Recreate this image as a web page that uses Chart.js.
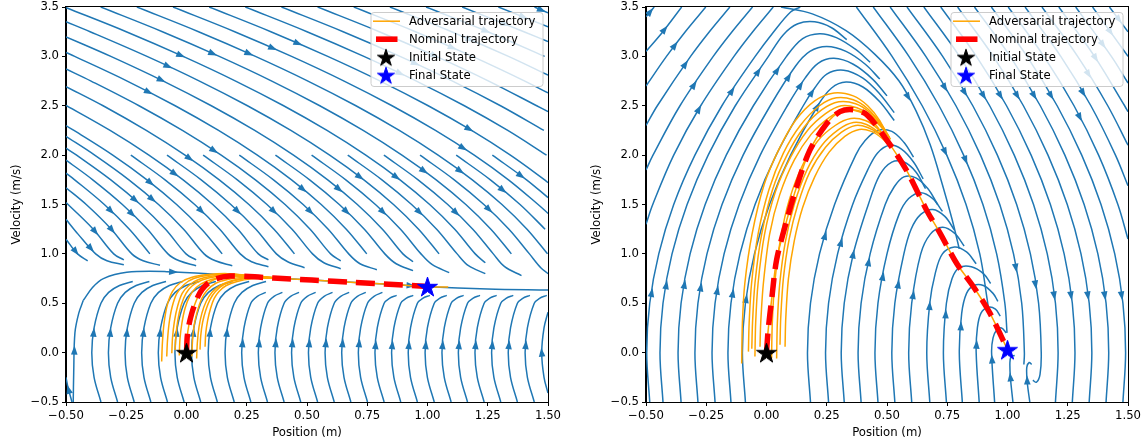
<!DOCTYPE html>
<html><head><meta charset="utf-8">
<script src="https://cdn.jsdelivr.net/npm/chart.js@4/dist/chart.umd.min.js"></script>
<style>
body{margin:0;background:#fff;width:1146px;height:444px;overflow:hidden;position:relative}
canvas{position:absolute;top:0}
</style></head>
<body>
<canvas id="leftChart" width="573" height="444" style="left:0px"></canvas>
<canvas id="rightChart" width="566" height="444" style="left:580px"></canvas>
<script>
// ---------------- axis ticks / labels ----------------
const xTickValues = [-0.5,-0.25,0,0.25,0.5,0.75,1.0,1.25,1.5];
const xTickLabels = ['\u22120.50','\u22120.25','0.00','0.25','0.50','0.75','1.00','1.25','1.50'];
const yTickValues = [-0.5,0,0.5,1.0,1.5,2.0,2.5,3.0,3.5];
const yTickLabels = ['\u22120.5','0.0','0.5','1.0','1.5','2.0','2.5','3.0','3.5'];
const xAxisTitle = 'Position (m)';
const yAxisTitle = 'Velocity (m/s)';
const legendLabels = ['Adversarial trajectory','Nominal trajectory','Initial State','Final State'];

// ---------------- left panel: streamlines ----------------
const leftUpperStreams = [
 [[-0.5,1.149],[-0.452,1.0],[-0.41,0.93]],
 [[-0.5,1.35],[-0.45,1.2],[-0.377,1.0],[-0.33,0.93],[-0.26,0.89]],
 [[-0.5,1.52],[-0.387,1.25],[-0.302,1.0],[-0.26,0.94]],
 [[-0.5,1.67],[-0.416,1.5],[-0.312,1.25],[-0.227,1.0],[-0.18,0.93],[-0.11,0.885]],
 [[-0.5,1.817],[-0.464,1.75],[-0.341,1.5],[-0.237,1.25],[-0.152,1.0]],
 [[-0.5,1.95],[-0.389,1.75],[-0.266,1.5],[-0.162,1.25],[-0.077,1.0],[-0.03,0.93],[0.04,0.88]],
 [[-0.5,2.07],[-0.456,2.0],[-0.314,1.75],[-0.191,1.5],[-0.087,1.25],[-0.002,1.0],[0.04,0.94]],
 [[-0.5,2.19],[-0.381,2.0],[-0.239,1.75],[-0.116,1.5],[-0.012,1.25],[0.073,1.0],[0.12,0.93],[0.19,0.88]],
 [[-0.5,2.298],[-0.467,2.25],[-0.306,2.0],[-0.164,1.75],[-0.041,1.5],[0.063,1.25],[0.148,1.0]],
 [[-0.231,2.0],[-0.089,1.75],[0.034,1.5],[0.138,1.25],[0.223,1.0],[0.27,0.92],[0.34,0.87]],
 [[-0.5,2.504],[-0.317,2.25],[-0.156,2.0],[-0.014,1.75],[0.109,1.5],[0.213,1.25],[0.298,1.0],[0.34,0.94]],
 [[-0.081,2.0],[0.061,1.75],[0.184,1.5],[0.288,1.25],[0.373,1.0],[0.42,0.92],[0.49,0.86]],
 [[-0.5,2.694],[-0.346,2.5],[-0.167,2.25],[-0.006,2.0],[0.136,1.75],[0.259,1.5],[0.363,1.25],[0.448,1.0]],
 [[0.069,2.0],[0.211,1.75],[0.334,1.5],[0.438,1.25],[0.523,1.0],[0.57,0.91],[0.64,0.85]],
 [[-0.5,2.872],[-0.396,2.75],[-0.197,2.5],[-0.017,2.25],[0.144,2.0],[0.286,1.75],[0.409,1.5],[0.513,1.25],[0.598,1.0],[0.64,0.93]],
 [[0.219,2.0],[0.361,1.75],[0.484,1.5],[0.588,1.25],[0.673,1.0],[0.72,0.9],[0.79,0.84]],
 [[-0.5,3.04],[-0.464,3.0],[-0.246,2.75],[-0.047,2.5],[0.133,2.25],[0.294,2.0],[0.436,1.75],[0.559,1.5],[0.663,1.25],[0.748,1.0]],
 [[0.369,2.0],[0.511,1.75],[0.634,1.5],[0.738,1.25],[0.823,1.0],[0.87,0.9],[0.94,0.83]],
 [[-0.5,3.198],[-0.314,3.0],[-0.096,2.75],[0.103,2.5],[0.283,2.25],[0.444,2.0],[0.586,1.75],[0.709,1.5],[0.813,1.25],[0.898,1.0],[0.94,0.92]],
 [[0.519,2.0],[0.661,1.75],[0.784,1.5],[0.888,1.25],[0.973,1.0],[1.02,0.89],[1.09,0.81]],
 [[-0.5,3.35],[-0.4,3.25],[-0.164,3.0],[0.054,2.75],[0.253,2.5],[0.433,2.25],[0.594,2.0],[0.736,1.75],[0.859,1.5],[0.963,1.25],[1.048,1.0]],
 [[0.669,2.0],[0.811,1.75],[0.934,1.5],[1.038,1.25],[1.123,1.0],[1.17,0.88],[1.24,0.8]],
 [[-0.5,3.494],[-0.25,3.25],[-0.014,3.0],[0.204,2.75],[0.403,2.5],[0.583,2.25],[0.744,2.0],[0.886,1.75],[1.009,1.5],[1.113,1.25],[1.198,1.0],[1.24,0.91]],
 [[0.819,2.0],[0.961,1.75],[1.084,1.5],[1.188,1.25],[1.273,1.0],[1.32,0.87],[1.39,0.78]],
 [[-0.356,3.5],[-0.1,3.25],[0.136,3.0],[0.354,2.75],[0.553,2.5],[0.733,2.25],[0.894,2.0],[1.036,1.75],[1.159,1.5],[1.263,1.25],[1.348,1.0]],
 [[0.969,2.0],[1.111,1.75],[1.234,1.5],[1.338,1.25],[1.423,1.0],[1.47,0.86],[1.5,0.8]],
 [[-0.206,3.5],[0.05,3.25],[0.286,3.0],[0.504,2.75],[0.703,2.5],[0.883,2.25],[1.044,2.0],[1.186,1.75],[1.309,1.5],[1.413,1.25],[1.498,1.0]],
 [[1.119,2.0],[1.261,1.75],[1.384,1.5],[1.488,1.25]],
 [[-0.056,3.5],[0.2,3.25],[0.436,3.0],[0.654,2.75],[0.853,2.5],[1.033,2.25],[1.194,2.0],[1.336,1.75],[1.459,1.5],[1.5,1.41]],
 [[1.269,2.0],[1.411,1.75],[1.5,1.57]],
 [[0.094,3.5],[0.35,3.25],[0.586,3.0],[0.804,2.75],[1.003,2.5],[1.183,2.25],[1.344,2.0],[1.486,1.75],[1.5,1.72]],
 [[0.244,3.5],[0.5,3.25],[0.736,3.0],[0.954,2.75],[1.153,2.5],[1.333,2.25],[1.494,2.0]],
 [[0.394,3.5],[0.65,3.25],[0.886,3.0],[1.104,2.75],[1.303,2.5],[1.483,2.25]],
 [[0.544,3.5],[0.8,3.25],[1.036,3.0],[1.254,2.75],[1.453,2.5],[1.5,2.44]],
 [[0.694,3.5],[0.95,3.25],[1.186,3.0],[1.404,2.75],[1.5,2.63]],
 [[0.844,3.5],[1.1,3.25],[1.336,3.0],[1.5,2.81]],
 [[0.994,3.5],[1.25,3.25],[1.486,3.0]],
 [[1.144,3.5],[1.4,3.25],[1.5,3.15]],
 [[1.294,3.5],[1.5,3.3]],
 [[1.444,3.5],[1.5,3.44]]
];
const leftLowerStreams = [
 [[-0.475,-0.5],[-0.492,-0.35],[-0.5,-0.25]],
 [[-0.47,-0.5],[-0.468,-0.2],[-0.463,0.2],[-0.447,0.4],[-0.428,0.53]],
 [[-0.428,0.53],[-0.39,0.66],[-0.345,0.75],[-0.248,0.813],[-0.082,0.82],[0.167,0.786],[0.36,0.757]],
 [[0.36,0.757],[0.52,0.735],[0.7,0.71],[0.86,0.69],[1.0,0.668],[1.25,0.645],[1.5,0.634]],
 [[-0.355,-0.5],[-0.3835,-0.25],[-0.393,0],[-0.3835,0.25],[-0.355,0.5],[-0.323,0.61],[-0.278,0.68],[-0.223,0.72]],
 [[-0.286,-0.5],[-0.3145,-0.25],[-0.324,0],[-0.3145,0.25],[-0.286,0.5],[-0.254,0.61],[-0.209,0.68],[-0.154,0.72]],
 [[-0.217,-0.5],[-0.2455,-0.25],[-0.255,0],[-0.2455,0.25],[-0.217,0.5],[-0.185,0.61],[-0.14,0.68],[-0.085,0.72]],
 [[-0.148,-0.5],[-0.1765,-0.25],[-0.186,0],[-0.1765,0.25],[-0.148,0.5],[-0.116,0.61],[-0.071,0.68],[-0.016,0.72]],
 [[-0.079,-0.5],[-0.1075,-0.25],[-0.117,0],[-0.1075,0.25],[-0.079,0.5],[-0.047,0.61],[-0.002,0.68],[0.053,0.72]],
 [[-0.01,-0.5],[-0.0385,-0.25],[-0.048,0],[-0.0385,0.25],[-0.01,0.5],[0.022,0.61],[0.067,0.68],[0.122,0.72]],
 [[0.059,-0.5],[0.0305,-0.25],[0.021,0],[0.0305,0.25],[0.059,0.5],[0.091,0.61],[0.136,0.68],[0.191,0.72]],
 [[0.128,-0.5],[0.0995,-0.25],[0.09,0],[0.0995,0.25],[0.128,0.5],[0.16,0.61],[0.205,0.68],[0.26,0.72]],
 [[0.198,-0.5],[0.1695,-0.25],[0.16,0],[0.1695,0.25],[0.198,0.5],[0.23,0.61],[0.275,0.68],[0.33,0.72]],
 [[0.267,-0.5],[0.2385,-0.25],[0.229,0],[0.2385,0.25],[0.267,0.5],[0.294,0.57],[0.329,0.61]],
 [[0.336,-0.5],[0.3075,-0.25],[0.298,0],[0.3075,0.25],[0.336,0.5],[0.363,0.57],[0.398,0.61]],
 [[0.405,-0.5],[0.3765,-0.25],[0.367,0],[0.3765,0.25],[0.405,0.5],[0.432,0.57],[0.467,0.61]],
 [[0.474,-0.5],[0.4455,-0.25],[0.436,0],[0.4455,0.25],[0.474,0.5],[0.501,0.57],[0.536,0.61]],
 [[0.544,-0.5],[0.5155,-0.25],[0.506,0],[0.5155,0.25],[0.544,0.5],[0.571,0.57],[0.606,0.61]],
 [[0.613,-0.5],[0.5845,-0.25],[0.575,0],[0.5845,0.25],[0.613,0.5],[0.64,0.57],[0.675,0.61]],
 [[0.682,-0.5],[0.6535,-0.25],[0.644,0],[0.6535,0.25],[0.682,0.5],[0.709,0.57],[0.744,0.61]],
 [[0.751,-0.5],[0.7225,-0.25],[0.713,0],[0.7225,0.25],[0.751,0.5],[0.778,0.57],[0.813,0.61]],
 [[0.82,-0.5],[0.7915,-0.25],[0.782,0],[0.7915,0.25],[0.82,0.5],[0.842,0.55],[0.872,0.58]],
 [[0.889,-0.5],[0.8605,-0.25],[0.851,0],[0.8605,0.25],[0.889,0.5],[0.911,0.55],[0.941,0.58]],
 [[0.958,-0.5],[0.9295,-0.25],[0.92,0],[0.9295,0.25],[0.958,0.5],[0.98,0.55],[1.01,0.58]],
 [[1.028,-0.5],[0.9995,-0.25],[0.99,0],[0.9995,0.25],[1.028,0.5],[1.05,0.55],[1.08,0.58]],
 [[1.098,-0.5],[1.0695,-0.25],[1.06,0],[1.0695,0.25],[1.098,0.5],[1.12,0.55],[1.15,0.58]],
 [[1.166,-0.5],[1.1375,-0.25],[1.128,0],[1.1375,0.25],[1.166,0.5],[1.188,0.55],[1.218,0.58]],
 [[1.235,-0.5],[1.2065,-0.25],[1.197,0],[1.2065,0.25],[1.235,0.5],[1.257,0.55],[1.287,0.58]],
 [[1.304,-0.5],[1.2755,-0.25],[1.266,0],[1.2755,0.25],[1.304,0.5],[1.326,0.55],[1.356,0.58]],
 [[1.373,-0.5],[1.3445,-0.25],[1.335,0],[1.3445,0.25],[1.373,0.5],[1.395,0.55],[1.425,0.58]],
 [[1.443,-0.5],[1.4145,-0.25],[1.405,0],[1.4145,0.25],[1.443,0.5],[1.465,0.55],[1.495,0.58]],
 [[1.5,-0.41],[1.4835,-0.25],[1.474,0],[1.4835,0.25],[1.5,0.41]]
];

// ---------------- left panel: trajectories ----------------
const leftNominal = [[0,0],[0.003,0.16],[0.01,0.28],[0.022,0.4],[0.033,0.48],[0.048,0.57],[0.065,0.64],[0.088,0.7],[0.125,0.75],[0.18,0.775],[0.26,0.77],[0.36,0.755],[0.52,0.735],[0.7,0.71],[0.86,0.69],[1.0,0.67]];
const leftAdversarial = [
 [[-0.103,-0.09],[-0.1,0.1],[-0.093,0.3],[-0.08,0.48],[-0.058,0.62],[-0.025,0.71],[0.02,0.76],[0.09,0.79],[0.17,0.8],[0.26,0.78],[0.36,0.76]],
 [[-0.082,-0.04],[-0.079,0.12],[-0.072,0.3],[-0.06,0.46],[-0.04,0.6],[-0.01,0.69],[0.03,0.75],[0.1,0.785],[0.18,0.795],[0.27,0.775],[0.36,0.758]],
 [[-0.061,-0.007],[-0.058,0.15],[-0.05,0.32],[-0.037,0.47],[-0.018,0.6],[0.01,0.68],[0.05,0.74],[0.11,0.775],[0.19,0.79],[0.28,0.772],[0.36,0.757]],
 [[-0.047,0.027],[-0.044,0.17],[-0.036,0.33],[-0.022,0.48],[-0.002,0.6],[0.025,0.68],[0.065,0.735],[0.125,0.77],[0.2,0.785],[0.29,0.77],[0.36,0.756]],
 [[-0.03,-0.03],[-0.027,0.14],[-0.019,0.3],[-0.006,0.45],[0.013,0.57],[0.04,0.66],[0.08,0.72],[0.14,0.76],[0.21,0.78],[0.3,0.768],[0.36,0.755]],
 [[0,0],[0.003,0.16],[0.01,0.28],[0.022,0.4],[0.033,0.48],[0.048,0.57],[0.065,0.64],[0.088,0.7],[0.125,0.75],[0.18,0.775],[0.26,0.77],[0.36,0.755],[0.52,0.736],[0.7,0.711],[0.86,0.69],[1.0,0.668],[1.086,0.664]],
 [[0.022,-0.04],[0.025,0.12],[0.032,0.28],[0.045,0.42],[0.062,0.54],[0.085,0.63],[0.12,0.7],[0.17,0.74],[0.23,0.76],[0.3,0.763],[0.36,0.755]],
 [[0.042,-0.06],[0.045,0.1],[0.052,0.26],[0.064,0.4],[0.082,0.52],[0.105,0.61],[0.14,0.68],[0.19,0.73],[0.25,0.755],[0.31,0.76],[0.37,0.753]],
 [[0.056,0.03],[0.059,0.17],[0.067,0.31],[0.08,0.43],[0.098,0.54],[0.12,0.62],[0.155,0.69],[0.2,0.73],[0.26,0.752],[0.32,0.757],[0.38,0.752]],
 [[0.077,0.06],[0.08,0.2],[0.088,0.33],[0.1,0.45],[0.115,0.55],[0.135,0.62],[0.165,0.68],[0.21,0.72],[0.27,0.748],[0.33,0.755],[0.39,0.75]]
];
const leftInitial = [0, 0];
const leftFinal = [1.0, 0.67];

// ---------------- right panel: streamlines ----------------
const rightEdgeStreams = [
 [[-0.5,3.4],[-0.466,3.5]],
 [[-0.5,3.05],[-0.43,3.25],[-0.352,3.5]],
 [[-0.5,2.7],[-0.415,3.0],[-0.337,3.25],[-0.252,3.5]],
 [[-0.5,2.3],[-0.453,2.5],[-0.315,3.0],[-0.237,3.25],[-0.152,3.5]],
 [[-0.5,1.85],[-0.471,2.0],[-0.359,2.5],[-0.221,3.0],[-0.143,3.25],[-0.058,3.5]],
 [[-0.5,1.3],[-0.472,1.5],[-0.385,2.0],[-0.273,2.5],[-0.135,3.0],[-0.057,3.25],[0.028,3.5]],
 [[0.06,3.5],[0.19,3.43],[0.33,3.26],[0.45,3.02],[0.55,2.75],[0.62,2.45],[0.68,2.1],[0.73,1.7],[0.77,1.35],[0.8,1.05]]
];
const rightArchStreams = [
 [[-0.4845,-0.5],[-0.497,0],[-0.4845,0.5],[-0.447,1.0],[-0.385,1.5],[-0.297,2.0],[-0.185,2.5],[-0.047,3.0],[0.03,3.25],[0.1,3.45],[0.14,3.5]],
 [[-0.4295,-0.5],[-0.442,0],[-0.4295,0.5],[-0.392,1.0],[-0.3295,1.5],[-0.242,2.0],[-0.1295,2.5],[0.008,3.0],[0.07,3.22],[0.13,3.33],[0.2,3.35],[0.27,3.29],[0.333,3.17]],
 [[-0.3545,-0.5],[-0.367,0],[-0.3545,0.5],[-0.317,1.0],[-0.2545,1.5],[-0.167,2.0],[-0.0545,2.5],[0.083,3.0],[0.15,3.18],[0.22,3.23],[0.29,3.19],[0.37,3.07],[0.43,2.94]],
 [[-0.2845,-0.5],[-0.297,0],[-0.2845,0.5],[-0.247,1.0],[-0.1845,1.5],[-0.097,2.0],[0.0155,2.5],[0.12,2.9],[0.18,3.05],[0.25,3.1],[0.33,3.05],[0.41,2.92],[0.47,2.77]],
 [[-0.2135,-0.5],[-0.226,0],[-0.2135,0.5],[-0.176,1.0],[-0.1135,1.5],[-0.026,2.0],[0.0865,2.5],[0.16,2.78],[0.214,2.93],[0.28,2.98],[0.36,2.92],[0.44,2.77],[0.5,2.6]],
 [[-0.1475,-0.5],[-0.16,0],[-0.1475,0.5],[-0.11,1.0],[-0.0475,1.5],[0.04,2.0],[0.1525,2.5],[0.2,2.68],[0.25,2.82],[0.32,2.86],[0.4,2.78],[0.47,2.62],[0.53,2.43]],
 [[-0.0875,-0.5],[-0.1,0],[-0.0875,0.5],[-0.05,1.0],[0.0125,1.5],[0.1,2.0],[0.2125,2.5],[0.27,2.68],[0.33,2.74],[0.4,2.69],[0.47,2.54],[0.53,2.35]],
 [[0.1825,-0.5],[0.17,0],[0.1825,0.5],[0.22,1.0],[0.2825,1.5],[0.37,2.0],[0.41,2.15],[0.46,2.25],[0.52,2.24],[0.57,2.13],[0.61,1.98]],
 [[0.2575,-0.5],[0.245,0],[0.2575,0.5],[0.295,1.0],[0.3575,1.5],[0.42,1.85],[0.46,2.02],[0.51,2.1],[0.56,2.06],[0.61,1.93],[0.65,1.76]],
 [[0.3225,-0.5],[0.31,0],[0.3225,0.5],[0.36,1.0],[0.4225,1.5],[0.47,1.8],[0.52,1.93],[0.57,1.93],[0.62,1.83],[0.66,1.66]],
 [[0.3925,-0.5],[0.38,0],[0.3925,0.5],[0.43,1.0],[0.4925,1.5],[0.53,1.68],[0.57,1.78],[0.62,1.77],[0.67,1.66],[0.71,1.5]],
 [[0.4625,-0.5],[0.45,0],[0.4625,0.5],[0.5,1.0],[0.55,1.4],[0.59,1.56],[0.64,1.62],[0.69,1.56],[0.73,1.43]],
 [[0.5325,-0.5],[0.52,0],[0.5325,0.5],[0.57,1.0],[0.6,1.25],[0.64,1.4],[0.69,1.45],[0.74,1.38],[0.78,1.24]],
 [[0.6025,-0.5],[0.59,0],[0.6025,0.5],[0.64,1.0],[0.68,1.2],[0.73,1.27],[0.78,1.21],[0.82,1.08]],
 [[0.6775,-0.5],[0.665,0],[0.6775,0.5],[0.7,0.8],[0.73,1.0],[0.78,1.07],[0.83,1.02],[0.87,0.9]],
 [[0.7465,-0.5],[0.734,0],[0.7465,0.5],[0.77,0.75],[0.8,0.86],[0.85,0.87],[0.9,0.8],[0.93,0.7]],
 [[0.8125,-0.5],[0.8,0],[0.81,0.4],[0.83,0.6],[0.86,0.68],[0.9,0.68],[0.94,0.6],[0.96,0.52]],
 [[0.8825,-0.5],[0.87,0],[0.875,0.25],[0.89,0.4],[0.92,0.46],[0.95,0.44],[0.97,0.37]],
 [[0.9465,-0.5],[0.934,0],[0.94,0.15],[0.955,0.23],[0.975,0.25],[0.995,0.2]],
 [[1.0225,-0.5],[1.012,-0.25],[1.01,-0.1],[1.015,-0.04],[1.03,-0.03]],
 [[1.0925,-0.5],[1.082,-0.3],[1.08,-0.15],[1.09,-0.1],[1.1,-0.12]]
];
const rightFallStreams = [
 [[0.373,3.5],[0.521,3.0],[0.646,2.5],[0.748,2.0],[0.828,1.5],[0.885,1.0],[0.915,0.55],[0.925,0.38]],
 [[0.443,3.5],[0.591,3.0],[0.716,2.5],[0.818,2.0],[0.898,1.5],[0.955,1.0],[0.989,0.5],[0.998,0.2]],
 [[0.513,3.5],[0.661,3.0],[0.786,2.5],[0.888,2.0],[0.968,1.5],[1.025,1.0],[1.059,0.5],[1.07,0.0],[1.068,-0.12]],
 [[0.583,3.5],[0.731,3.0],[0.856,2.5],[0.958,2.0],[1.038,1.5],[1.095,1.0],[1.129,0.5],[1.14,0.0],[1.135,-0.22],[1.12,-0.3],[1.105,-0.28]],
 [[0.653,3.5],[0.801,3.0],[0.926,2.5],[1.028,2.0],[1.108,1.5],[1.165,1.0],[1.199,0.5],[1.21,0.0],[1.199,-0.5]],
 [[0.723,3.5],[0.871,3.0],[0.996,2.5],[1.098,2.0],[1.178,1.5],[1.235,1.0],[1.269,0.5],[1.28,0.0],[1.269,-0.5]],
 [[0.793,3.5],[0.941,3.0],[1.066,2.5],[1.168,2.0],[1.248,1.5],[1.305,1.0],[1.339,0.5],[1.35,0.0],[1.339,-0.5]],
 [[0.863,3.5],[1.011,3.0],[1.136,2.5],[1.238,2.0],[1.318,1.5],[1.375,1.0],[1.409,0.5],[1.42,0.0],[1.409,-0.5]],
 [[0.933,3.5],[1.081,3.0],[1.206,2.5],[1.308,2.0],[1.388,1.5],[1.445,1.0],[1.479,0.5],[1.49,0.0],[1.479,-0.5]],
 [[1.003,3.5],[1.151,3.0],[1.276,2.5],[1.378,2.0],[1.458,1.5],[1.5,1.15]],
 [[1.073,3.5],[1.221,3.0],[1.346,2.5],[1.448,2.0],[1.5,1.69]],
 [[1.143,3.5],[1.291,3.0],[1.416,2.5],[1.5,2.1]],
 [[1.213,3.5],[1.361,3.0],[1.486,2.5],[1.5,2.44]],
 [[1.283,3.5],[1.431,3.0],[1.5,2.73]],
 [[1.353,3.5],[1.5,3.0]],
 [[1.423,3.5],[1.5,3.25]]
];

// ---------------- right panel: trajectories ----------------
const rightNominal = [[0,0],[0.007,0.23],[0.021,0.53],[0.042,0.94],[0.084,1.34],[0.125,1.68],[0.18,2.05],[0.25,2.32],[0.305,2.44],[0.36,2.46],[0.416,2.41],[0.5,2.15],[0.58,1.85],[0.665,1.44],[0.72,1.21],[0.79,0.9],[0.858,0.67],[0.927,0.4],[1.0,0.03]];
const rightAdversarial = [
 [[-0.103,-0.11],[-0.1,0.3],[-0.09,0.7],[-0.06,1.2],[-0.01,1.7],[0.05,2.05],[0.12,2.35],[0.2,2.55],[0.28,2.63],[0.36,2.6],[0.42,2.5],[0.47,2.35],[0.5,2.2]],
 [[-0.075,0.01],[-0.072,0.3],[-0.062,0.7],[-0.035,1.2],[0.01,1.65],[0.07,2.02],[0.14,2.3],[0.22,2.5],[0.29,2.58],[0.36,2.56],[0.42,2.47],[0.47,2.33],[0.5,2.2]],
 [[-0.061,0.04],[-0.058,0.3],[-0.048,0.7],[-0.02,1.2],[0.025,1.65],[0.085,2.0],[0.155,2.28],[0.23,2.46],[0.3,2.54],[0.37,2.52],[0.43,2.43],[0.48,2.3],[0.51,2.18]],
 [[-0.048,-0.04],[-0.045,0.3],[-0.035,0.7],[-0.008,1.2],[0.037,1.63],[0.1,1.98],[0.17,2.25],[0.245,2.42],[0.31,2.5],[0.375,2.48],[0.435,2.4],[0.48,2.28],[0.51,2.18]],
 [[-0.027,0.06],[-0.024,0.3],[-0.013,0.7],[0.013,1.2],[0.055,1.6],[0.115,1.95],[0.185,2.21],[0.26,2.38],[0.325,2.46],[0.385,2.44],[0.44,2.37],[0.485,2.26],[0.515,2.16]],
 [[0,0],[0.007,0.23],[0.021,0.53],[0.042,0.94],[0.084,1.34],[0.125,1.68],[0.18,2.05],[0.25,2.32],[0.305,2.44],[0.36,2.46],[0.416,2.41],[0.5,2.15],[0.58,1.85],[0.665,1.44],[0.72,1.21],[0.79,0.9],[0.858,0.67],[0.927,0.4],[1.0,0.03]],
 [[0.021,-0.06],[0.024,0.3],[0.034,0.7],[0.058,1.15],[0.095,1.55],[0.15,1.9],[0.215,2.15],[0.285,2.3],[0.35,2.37],[0.41,2.35],[0.46,2.27],[0.5,2.15]],
 [[0.042,-0.06],[0.045,0.3],[0.055,0.7],[0.078,1.12],[0.115,1.5],[0.168,1.85],[0.23,2.1],[0.3,2.26],[0.36,2.33],[0.415,2.31],[0.465,2.23],[0.505,2.13]],
 [[0.056,0.08],[0.059,0.35],[0.07,0.75],[0.094,1.15],[0.13,1.5],[0.18,1.83],[0.245,2.08],[0.31,2.23],[0.37,2.3],[0.42,2.28],[0.47,2.21],[0.51,2.11]],
 [[0.077,0.06],[0.08,0.35],[0.091,0.75],[0.115,1.13],[0.15,1.47],[0.2,1.78],[0.26,2.03],[0.325,2.19],[0.385,2.26],[0.435,2.24],[0.48,2.17],[0.515,2.08]]
];
const rightInitial = [0, 0];
const rightFinal = [1.0, 0.03];

// ---------------- styling ----------------
const FONT = 'DejaVu Sans';
const FS = 11.7;
const STREAM = '#1f77b4', ORANGE = '#ffa500', RED = '#ff0000';
Chart.defaults.font.family = FONT;
Chart.defaults.font.size = FS;
Chart.defaults.color = '#000';

function makeStar(fill, R) {
  const c = document.createElement('canvas');
  const s = Math.ceil(R * 2 + 2);
  c.width = s; c.height = s;
  const g = c.getContext('2d');
  g.translate(s / 2, s / 2 + R * 0.1);
  g.beginPath();
  const r = R * 0.382;
  for (let i = 0; i < 10; i++) {
    const rad = i % 2 === 0 ? R : r;
    const ang = -Math.PI / 2 + i * Math.PI / 5;
    const px = rad * Math.cos(ang), py = rad * Math.sin(ang);
    if (i === 0) g.moveTo(px, py); else g.lineTo(px, py);
  }
  g.closePath();
  g.fillStyle = fill; g.fill();
  g.lineWidth = 1; g.strokeStyle = fill; g.stroke();
  return c;
}
const blackStar = makeStar('#000000', 10.5);
const blueStar = makeStar('#0000ff', 10.5);
const blackStarLeg = makeStar('#000000', 9);
const blueStarLeg = makeStar('#0000ff', 9);

const toXY = pts => pts.map(p => ({x: p[0], y: p[1]}));

function streamDS(pts) {
  return {data: toXY(pts), showLine: true, borderColor: STREAM, borderWidth: 1.5,
    pointRadius: 0, pointHoverRadius: 0, tension: 0.35, fill: false, isStream: true};
}

// pin the plot area to the reference geometry
function makeAreaPlugin(box) {
  return {
    id: 'pinArea',
    afterLayout(chart) {
      const xs = chart.scales.x, ys = chart.scales.y, ca = chart.chartArea;
      ca.left = box.left; ca.right = box.right; ca.top = box.top; ca.bottom = box.bottom;
      ca.width = box.right - box.left; ca.height = box.bottom - box.top;
      ys.top = box.top; ys.bottom = box.bottom; ys.height = box.bottom - box.top;
      ys.left = 0; ys.right = box.left; ys.width = box.left;
      xs.left = box.left; xs.right = box.right; xs.width = box.right - box.left;
      xs.top = box.bottom; xs.bottom = chart.height; xs.height = chart.height - box.bottom;
      xs.configure(); ys.configure();
    }
  };
}

const arrowPlugin = {
  id: 'streamArrows',
  afterDatasetDraw(chart, args) {
    const ds = chart.data.datasets[args.index];
    if (!ds.isStream) return;
    const pts = args.meta.data.map(p => ({x: p.x, y: p.y}));
    if (pts.length < 2) return;
    const seg = []; let L = 0;
    for (let i = 1; i < pts.length; i++) {
      const d = Math.hypot(pts[i].x - pts[i-1].x, pts[i].y - pts[i-1].y);
      seg.push(d); L += d;
    }
    if (L < 12) return;
    const n = Math.max(1, Math.round(L / 240));
    const ctx = chart.ctx, a = chart.chartArea;
    ctx.save();
    ctx.beginPath(); ctx.rect(a.left, a.top, a.right - a.left, a.bottom - a.top); ctx.clip();
    ctx.fillStyle = ds.borderColor;
    for (let k = 0; k < n; k++) {
      let target = L * (k + 0.5) / n; let i = 0;
      while (i < seg.length - 1 && target > seg[i]) { target -= seg[i]; i++; }
      const t = seg[i] ? target / seg[i] : 0;
      const x = pts[i].x + (pts[i+1].x - pts[i].x) * t;
      const y = pts[i].y + (pts[i+1].y - pts[i].y) * t;
      const ang = Math.atan2(pts[i+1].y - pts[i].y, pts[i+1].x - pts[i].x);
      ctx.save();
      ctx.translate(x, y); ctx.rotate(ang);
      ctx.beginPath();
      ctx.moveTo(5, 0); ctx.lineTo(-4, 3.3); ctx.lineTo(-4, -3.3); ctx.closePath();
      ctx.fill();
      ctx.restore();
    }
    ctx.restore();
  }
};

const framePlugin = {
  id: 'frame',
  afterDraw(chart) {
    const ctx = chart.ctx, a = chart.chartArea;
    ctx.save();
    ctx.strokeStyle = '#000'; ctx.lineWidth = 1;
    ctx.strokeRect(Math.round(a.left) - 0.5, Math.round(a.top) - 0.5,
      Math.round(a.right - a.left) + 1, Math.round(a.bottom - a.top) + 1);
    // legend
    const w = 172, h = 74;
    const x = a.right - 5 - w, y = a.top + 5.5;
    const r = 3;
    ctx.beginPath();
    ctx.moveTo(x + r, y); ctx.lineTo(x + w - r, y); ctx.quadraticCurveTo(x + w, y, x + w, y + r);
    ctx.lineTo(x + w, y + h - r); ctx.quadraticCurveTo(x + w, y + h, x + w - r, y + h);
    ctx.lineTo(x + r, y + h); ctx.quadraticCurveTo(x, y + h, x, y + h - r);
    ctx.lineTo(x, y + r); ctx.quadraticCurveTo(x, y, x + r, y);
    ctx.closePath();
    ctx.fillStyle = 'rgba(255,255,255,0.8)'; ctx.fill();
    ctx.strokeStyle = '#cccccc'; ctx.lineWidth = 1; ctx.stroke();
    const rowY = i => y + 8.7 + i * 18;
    ctx.strokeStyle = ORANGE; ctx.lineWidth = 1.5;
    ctx.beginPath(); ctx.moveTo(x + 2, rowY(0)); ctx.lineTo(x + 29, rowY(0)); ctx.stroke();
    ctx.fillStyle = RED;
    ctx.fillRect(x + 5, rowY(1) - 2.8, 21.5, 5.6);
    ctx.drawImage(blackStarLeg, x + 15 - blackStarLeg.width / 2, rowY(2) - blackStarLeg.height / 2);
    ctx.drawImage(blueStarLeg, x + 15 - blueStarLeg.width / 2, rowY(3) - blueStarLeg.height / 2);
    ctx.fillStyle = '#000';
    ctx.font = FS + 'px "' + FONT + '"';
    ctx.textBaseline = 'middle'; ctx.textAlign = 'left';
    legendLabels.forEach((t, i) => ctx.fillText(t, x + 38, rowY(i) + 0.5));
    ctx.restore();
  }
};

function buildChart(id, streams, nominal, adversarial, initial, final, rightPad) {
  const datasets = [];
  datasets.push({data: toXY([initial]), pointStyle: blackStar, pointRadius: 10, showLine: false});
  datasets.push({data: toXY([final]), pointStyle: blueStar, pointRadius: 10, showLine: false});
  datasets.push({data: toXY(nominal), showLine: true, borderColor: RED, borderWidth: 5.5,
    borderDash: [19, 9], borderCapStyle: 'butt', pointRadius: 0, tension: 0.3, fill: false});
  adversarial.forEach(p => datasets.push({data: toXY(p), showLine: true, borderColor: ORANGE,
    borderWidth: 1.5, pointRadius: 0, tension: 0.3, fill: false}));
  streams.forEach(p => datasets.push(streamDS(p)));

  const cv = document.getElementById(id);
  const area = {left: 66, right: cv.width - rightPad, top: 7, bottom: 402};

  return new Chart(cv, {
    type: 'scatter',
    data: {datasets},
    options: {
      responsive: false, animation: false, devicePixelRatio: 1,
      events: [],
      layout: {padding: {left: 0, top: 7, right: rightPad, bottom: 0}},
      plugins: {legend: {display: false}, tooltip: {enabled: false}},
      scales: {
        x: {
          type: 'linear', min: -0.5, max: 1.5,
          afterBuildTicks: s => { s.ticks = xTickValues.map(v => ({value: v})); },
          afterFit: s => { s.height = 42; },
          ticks: {autoSkip: false, maxRotation: 0, padding: 3, color: '#000',
            callback: (v, i) => xTickLabels[i], font: {size: FS, family: FONT}},
          grid: {display: true, drawOnChartArea: false, drawTicks: true, tickLength: 4, color: '#000', lineWidth: 1},
          border: {display: true, color: '#000', width: 1},
          title: {display: true, text: xAxisTitle, color: '#000', font: {size: FS, family: FONT}, padding: {top: 0, bottom: 4}}
        },
        y: {
          type: 'linear', min: -0.5, max: 3.5,
          afterBuildTicks: s => { s.ticks = yTickValues.map(v => ({value: v})); },
          afterFit: s => { s.width = 66; },
          ticks: {autoSkip: false, padding: 3, color: '#000',
            callback: (v, i) => yTickLabels[i], font: {size: FS, family: FONT}},
          grid: {display: true, drawOnChartArea: false, drawTicks: true, tickLength: 4, color: '#000', lineWidth: 1},
          border: {display: true, color: '#000', width: 1},
          title: {display: true, text: yAxisTitle, color: '#000', font: {size: FS, family: FONT}, padding: {top: 10, bottom: 0}}
        }
      }
    },
    plugins: [makeAreaPlugin(area), arrowPlugin, framePlugin]
  });
}

buildChart('leftChart', leftUpperStreams.concat(leftLowerStreams), leftNominal, leftAdversarial, leftInitial, leftFinal, 25);
buildChart('rightChart', rightEdgeStreams.concat(rightArchStreams, rightFallStreams), rightNominal, rightAdversarial, rightInitial, rightFinal, 18);
</script>
</body></html>
